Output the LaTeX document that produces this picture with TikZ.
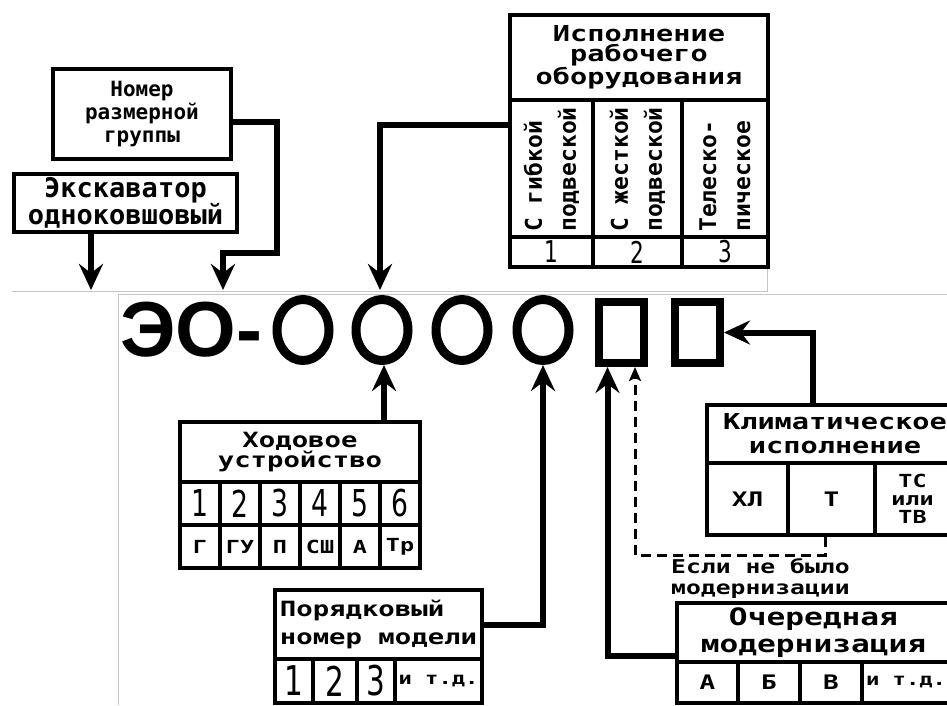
\documentclass[tikz,border=0pt]{standalone}
\usepackage{fontspec}
\usetikzlibrary{arrows.meta,shapes.geometric}
\newfontfamily\pix{DejaVu Sans Mono}[FakeStretch=1.3]
\newfontfamily\pixn{DejaVu Sans Mono}
\newfontfamily\dig{DejaVu Sans}[FakeStretch=0.72]
\newfontfamily\eofont{Liberation Sans}
\newcommand\setfs[2]{\fontsize{#1}{#2}\selectfont}
\begin{document}
\begin{tikzpicture}[x=1pt,y=-1pt,
  box/.style={draw, line width=4pt, inner sep=0pt, align=center},
  rot/.style={rotate=90, anchor=west, align=left, inner sep=0pt, font=\pixn\bfseries\setfs{23}{34}},
  ring/.style={draw, ellipse, line width=9pt, minimum width=52pt, minimum height=61pt, inner sep=0pt},
  sq/.style={draw, rectangle, line width=8pt, minimum width=45pt, minimum height=61pt, inner sep=0pt},
  conn/.style={line width=6pt, -{Stealth[length=26pt,width=24pt,inset=9pt]}},
  dconn/.style={line width=3pt, dash pattern=on 10pt off 6pt, -{Stealth[length=14pt,width=12pt,inset=3pt]}},
  grey/.style={draw=gray!45, line width=1pt}]
\useasboundingbox (0,0) rectangle (947,705);
\fill[white] (0,0) rectangle (947,705);
% faint panel edges
\draw[grey] (12,291) -- (767,291) -- (767,268);
\draw[grey] (118,705) -- (118,294) -- (947,294);

% ---- top left ----
\node[box, minimum width=178pt, minimum height=90pt, font=\pixn\bfseries\setfs{21}{23}] (nomer) at (142,114) {Номер\\размерной\\группы};
\node[box, minimum width=223pt, minimum height=58pt, font=\pixn\bfseries\setfs{27}{27}] (eks) at (125.5,203) {Экскаватор\\одноковшовый};

% ---- top right table ----
\node[box, minimum width=258pt, minimum height=85pt, font=\pix\bfseries\setfs{22}{20}] (isp) at (639,57.5) {Исполнение\\рабочего\\оборудования};
\node[box, minimum width=83pt, minimum height=137pt] (i1) at (551.5,168.5) {};
\node[box, minimum width=89pt, minimum height=137pt] (i2) at (637.5,168.5) {};
\node[box, minimum width=86pt, minimum height=137pt] (i3) at (725,168.5) {};
\node[rot] (i1t) at (551.5,232) {С гибкой\\подвеской};
\node[rot] (i2t) at (637.5,232) {С жесткой\\подвеской};
\node[rot] (i3t) at (725,232) {Телеско-\\пическое};
\node[box, minimum width=83pt, minimum height=30pt, font=\dig\setfs{30}{30}] (in1) at (551.5,252) {1};
\node[box, minimum width=89pt, minimum height=30pt, font=\dig\setfs{30}{30}] (in2) at (637.5,252) {2};
\node[box, minimum width=86pt, minimum height=30pt, font=\dig\setfs{30}{30}] (in3) at (725,252) {3};

% ---- marking ----
\node[font=\eofont\bfseries\setfs{78}{80}, inner sep=0pt] (eo) at (191.5,330) {ЭО-};
\node[ring] (c1) at (303,330) {};
\node[ring] (c2) at (382,330) {};
\node[ring] (c3) at (462,330) {};
\node[ring] (c4) at (543,330) {};
\node[sq] (s1) at (621.5,332.5) {};
\node[sq] (s2) at (697.5,332.5) {};

% ---- Ходовое устройство ----
\node[box, minimum width=240pt, minimum height=60pt, font=\pix\bfseries\setfs{21}{20}] (hod) at (300,452) {Ходовое\\устройство};
\foreach \i/\x/\l in {1/200/Г, 2/240/ГУ, 3/280/П, 4/320/СШ, 5/360/А, 6/400/Тр}{
  \node[box, minimum width=40pt, minimum height=43pt, font=\dig\setfs{37}{37}] (hn\i) at (\x,503.5) {\i};
  \node[box, minimum width=40pt, minimum height=43pt, font=\pix\bfseries\setfs{18}{18}] (hl\i) at (\x,546.5) {\l};
}

% ---- Порядковый номер модели ----
\node[box, minimum width=207pt, minimum height=69pt, font=\pix\bfseries\setfs{21}{28}, align=left] (por) at (378.5,624.5) {Порядковый\\номер модели};
\node[box, minimum width=38pt, minimum height=44pt, font=\dig\setfs{41}{41}] (p1) at (294,681) {1};
\node[box, minimum width=44pt, minimum height=44pt, font=\dig\setfs{41}{41}] (p2) at (335,681) {2};
\node[box, minimum width=38pt, minimum height=44pt, font=\dig\setfs{41}{41}] (p3) at (376,681) {3};
\node[box, minimum width=87pt, minimum height=44pt, font=\pix\bfseries\setfs{17}{17}] (p4) at (438.5,681) {и т.д.};

% ---- Климатическое исполнение ----
\node[box, minimum width=256pt, minimum height=58pt, font=\pix\bfseries\setfs{22}{24}] (klim) at (835,434) {Климатическое\\исполнение};
\node[box, minimum width=81pt, minimum height=72pt, font=\pix\bfseries\setfs{20}{20}] (k1) at (747.5,499) {ХЛ};
\node[box, minimum width=87pt, minimum height=72pt, font=\pix\bfseries\setfs{20}{20}] (k2) at (831.5,499) {Т};
\node[box, minimum width=75pt, minimum height=72pt, font=\pix\bfseries\setfs{18}{18}] (k3) at (912.5,499) {ТС\\или\\ТВ};

\node[font=\pix\bfseries\setfs{19}{21}, align=left, anchor=west, inner sep=0pt] (esli) at (671,578) {Если не было\\модернизации};

% ---- Очередная модернизация ----
\node[box, minimum width=273pt, minimum height=59pt, font=\pix\bfseries\setfs{24}{27}] (och) at (813.5,632.5) {Очередная\\модернизация};
\node[box, minimum width=61pt, minimum height=41pt, font=\pix\bfseries\setfs{20}{20}] (o1) at (707.5,682.5) {А};
\node[box, minimum width=62pt, minimum height=41pt, font=\pix\bfseries\setfs{20}{20}] (o2) at (769,682.5) {Б};
\node[box, minimum width=62pt, minimum height=41pt, font=\pix\bfseries\setfs{20}{20}] (o3) at (831,682.5) {В};
\node[box, minimum width=88pt, minimum height=41pt, font=\pix\bfseries\setfs{17}{17}] (o4) at (906,682.5) {и т.д.};

% ---- connectors ----
\coordinate (t1) at (91,290);
\coordinate (t2) at (223,290);
\coordinate (t3) at (380,290);
\coordinate (b1) at (277,253);
\coordinate (h2) at ([xshift=2pt]c2.south);
\draw[conn] (eks.south -| t1) -- (t1);
\draw[conn] ([yshift=-8pt]nomer.east) -| (b1) -| (t2);
\draw[conn] ([yshift=43.5pt]i1.west) -| (t3);
\draw[conn] (hod.north -| h2) -- (h2);
\draw[conn] (por.east) -| (c4.south);
\draw[conn] ([xshift=-22pt]klim.north) |- (s2.east);
\draw[conn] ([yshift=-23pt]och.west) -| ([xshift=-14pt]s1.south);
\draw[dconn] ([xshift=-6.5pt]k2.south) -- ++(0,18) -| ([xshift=13.5pt]s1.south);
\end{tikzpicture}
\end{document}
